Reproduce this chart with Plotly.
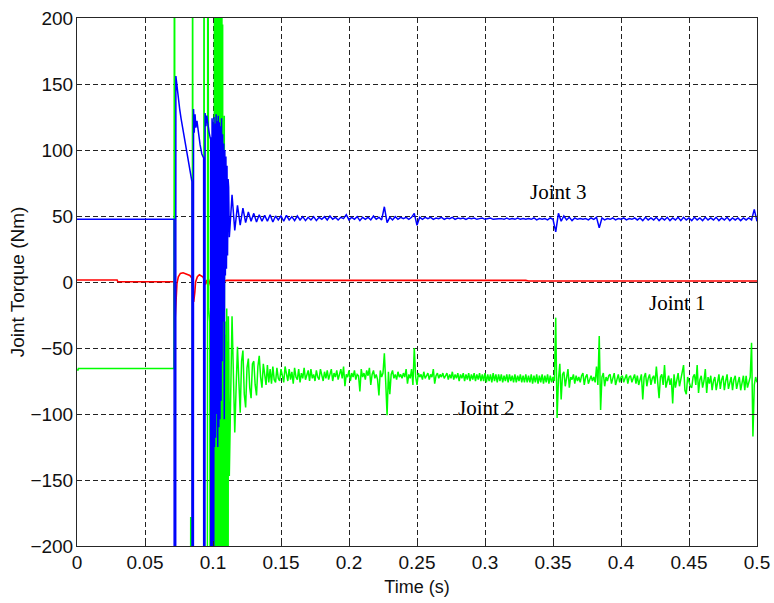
import numpy as np
import plotly.graph_objects as go

# ---------------- data ----------------
# Transient part (t in s, torque in Nm); values beyond +/-200 are off-scale excursions
blue_t_tr = [0, 0.0714, 0.0715, 0.0725, 0.0727, 0.0735, 0.0745, 0.0755, 0.0765, 0.0775,
             0.0790, 0.0805, 0.0820, 0.0832, 0.0842, 0.0845, 0.0846, 0.0855, 0.0857, 0.0862,
             0.0868, 0.0874, 0.0882, 0.0892, 0.0905, 0.0918, 0.0928, 0.0931, 0.0932, 0.0940,
             0.0942, 0.0948, 0.0954, 0.0962, 0.0972, 0.0980, 0.0983, 0.0984, 0.0991, 0.0993,
             0.0998, 0.1000, 0.1001, 0.1005, 0.1007, 0.1011, 0.1015, 0.1019, 0.1023, 0.1027,
             0.1031, 0.1035, 0.1039, 0.1043, 0.1047, 0.1051, 0.1055, 0.1059, 0.1063, 0.1067,
             0.1071, 0.1075, 0.1079, 0.1083, 0.1087, 0.1091, 0.1095, 0.1099, 0.1103, 0.1107,
             0.1111, 0.1115]
blue_v_tr = [47.5, 47.5, -400, -400, 156, 148, 138, 131, 124, 118,
             108, 99, 90, 82, 76, 76, -400, -400, 131, 113,
             127, 117, 122, 112, 104, 97, 94, 94, -400, -400,
             128, 118, 126, 119, 113, 109, 109, -400, -400, 124,
             108, 108, -400, -400, 125, -125, 120, -118, 127, -100,
             122, -125, 126, -110, 121, -104, 118, -90, 124, -60,
             112, -30, 105, -104, 100, 5, 95, 10, 88, 20,
             78, 72]

green_t_tr = [0, 0.0008, 0.0010, 0.0713, 0.0717, 0.0722, 0.0834, 0.0836, 0.0838, 0.0847,
              0.0850, 0.0854, 0.0931, 0.0934, 0.0938, 0.0958, 0.0962, 0.0968, 0.0976, 0.0980,
              0.1008, 0.1011, 0.1014, 0.1017, 0.1020, 0.1023, 0.1026, 0.1029, 0.1032, 0.1035,
              0.1038, 0.1041, 0.1044, 0.1047, 0.1050, 0.1053, 0.1056, 0.1059, 0.1062, 0.1065,
              0.1068, 0.1071, 0.1074, 0.1077, 0.1080, 0.1083, 0.1086, 0.1089, 0.1092, 0.1095,
              0.1098, 0.1101, 0.1104, 0.1107, 0.1110, 0.1113, 0.1117]
green_v_tr = [-66.7, -66.7, -65.5, -65.5, 400, -400, -400, -178, -400, -400,
              400, -400, -400, 400, -400, -400, 400, -20, -30, -400,
              -400, 400, -400, 400, -30, -400, 400, -40, -400, 400,
              -20, -400, 400, -10, -400, 380, -400, 300, -400, 400,
              -400, 195, -400, -20, -400, 126, -400, -30, -400, -40,
              -400, -20, -400, -45, -400, -26, -60]

red_t = [0, 0.0295, 0.0300, 0.0714, 0.0718, 0.0728, 0.0735, 0.0745, 0.0760, 0.0780,
         0.0800, 0.0830, 0.0845, 0.0858, 0.0866, 0.0872, 0.0885, 0.0900, 0.0925, 0.0935,
         0.0945, 0.0955, 0.0965, 0.0975, 0.0985, 0.0995, 0.1005, 0.1020, 0.1040, 0.1060,
         0.1100, 0.3300, 0.3320, 0.5000]
red_v = [1.5, 1.5, 0.2, 0.2, -35, -12, -1, 4, 6.5, 7,
         6, 5, 3, -15, -8, 0, 4, 5.5, 4, 2,
         -2, 1.5, -3, 1, 3, -2, 2, -1.5, 2, 0,
         1.2, 1.2, 0.8, 0.8]

# Steady part of Joint 2, sampled every 1 ms from t = 0.112 s to 0.500 s
GREEN_T0 = 0.112
GREEN_DT = 0.001
green_steady = [
    -147, -90, -26, -70, -114, -80, -49, -75, -99, -60, -52, -85, -95, -65, -58, -80, -88, -62, -60, -78,
    -86, -64, -56, -72, -80, -62, -70, -78, -63, -76, -66, -77, -64, -74, -76, -65, -73, -75, -66, -72,
    -76, -64, -71, -75, -66, -74, -68, -77, -65, -72, -74, -66, -76, -69, -73, -65, -74, -70, -67, -75,
    -66, -73, -70, -75, -67, -72, -74, -66, -71, -75, -68, -73, -67, -74, -70, -66, -75, -69, -72, -67,
    -74, -70, -66, -73, -64, -79, -70, -72, -67, -75, -69, -72, -67, -74, -70, -71, -83, -66, -72, -69,
    -74, -67, -71, -65, -78, -70, -67, -73, -70, -74, -86, -67, -72, -69, -54, -76, -101, -68, -85, -70,
    -67, -73, -70, -74, -68, -72, -70, -73, -69, -72, -66, -77, -70, -73, -66, -78, -50, -72, -78, -69,
    -72, -70, -74, -68, -73, -71, -69, -74, -70, -72, -66, -77, -71, -69, -73, -70, -72, -69, -73, -71,
    -69, -74, -70, -73, -68, -74, -70, -73, -69, -75, -70, -73, -69, -75, -70, -74, -69, -75, -70, -74,
    -69, -75, -70, -74, -69, -75, -70, -75, -69, -76, -70, -75, -70, -76, -69, -75, -70, -76, -70, -75,
    -70, -76, -71, -75, -70, -76, -70, -75, -71, -76, -70, -76, -71, -75, -70, -76, -71, -76, -70, -76,
    -71, -76, -70, -77, -71, -76, -70, -77, -71, -76, -70, -77, -71, -76, -70, -77, -71, -76, -72, -75,
    -27, -103, -74, -62, -89, -70, -68, -79, -72, -66, -80, -72, -74, -70, -77, -71, -75, -72, -76, -71,
    -69, -78, -72, -70, -77, -73, -71, -75, -72, -76, -64, -78, -41, -97, -72, -69, -79, -72, -75, -71,
    -70, -77, -72, -69, -78, -73, -70, -76, -72, -71, -76, -73, -70, -77, -72, -71, -76, -73, -70, -77,
    -71, -78, -73, -70, -89, -72, -69, -79, -73, -70, -78, -73, -71, -77, -64, -80, -88, -72, -70, -78,
    -63, -80, -74, -71, -78, -73, -92, -70, -80, -74, -69, -79, -73, -70, -63, -82, -85, -72, -75, -79,
    -80, -72, -70, -78, -63, -84, -74, -71, -80, -75, -66, -84, -72, -77, -71, -82, -75, -72, -82, -74,
    -70, -81, -74, -71, -82, -75, -70, -81, -76, -72, -82, -74, -71, -81, -76, -72, -82, -75, -71, -82,
    -71, -80, -75, -72, -46, -117, -78, -72, -76]

# Steady part of Joint 3, sampled every 2 ms from t = 0.112 s to 0.500 s
BLUE_T0 = 0.112
BLUE_DT = 0.002
blue_steady = [
    34, 66, 39, 58, 43, 56, 45, 53, 46, 52,
    45.5, 51, 46, 50.5, 46, 51, 45.5, 50, 47, 50,
    46, 50.5, 47, 49.5, 46.5, 50, 47, 49.5, 46.5, 49,
    47, 49.5, 46.5, 49, 47.5, 49.5, 47, 50, 47.5, 49,
    47, 49, 48, 51, 47, 49, 47.5, 49.5, 46.5, 49,
    47.5, 49, 47, 50, 47.5, 49, 47, 57, 45, 49,
    47, 49.5, 47.5, 49, 48, 49, 47.5, 49, 52, 43,
    49, 47.5, 49, 48, 49, 47.5, 48.5, 48, 49, 47.5,
    48.5, 48, 49, 47.5, 48.5, 48, 48.5, 47.5, 48.5, 48,
    48.5, 47.5, 48, 48.5, 47.5, 48, 48.5, 47.5, 48, 48,
    48, 47.5, 48.5, 47.5, 48, 47.5, 48.5, 47.5, 48, 47.5,
    48, 47.5, 48.5, 47, 48, 47.5, 48, 47, 48.5, 47.5,
    38, 52, 46, 50, 47, 49, 46.5, 48.5, 47.5, 48,
    47.5, 48, 47, 48.5, 47.5, 49, 41, 48.5, 47, 48,
    47.5, 48.5, 47, 48, 47.5, 48.5, 47, 48, 47.5, 48.5,
    47, 48.5, 46.5, 49, 47, 48.5, 47, 49, 46.5, 48.5,
    47, 49, 46.5, 48.5, 47, 49, 46.5, 49, 47, 48.5,
    46.5, 49, 47, 48.5, 46.5, 49, 47, 48.5, 47, 49,
    46.5, 48.5, 47, 49, 46.5, 48.5, 47, 48.5, 46.5, 48.5,
    47, 48.5, 47, 55, 46]

x_ticks = [0, 0.05, 0.1, 0.15, 0.2, 0.25, 0.3, 0.35, 0.4, 0.45, 0.5]
x_tick_labels = ["0", "0.05", "0.1", "0.15", "0.2", "0.25", "0.3", "0.35", "0.4", "0.45", "0.5"]
y_ticks = [-200, -150, -100, -50, 0, 50, 100, 150, 200]

labels = ["Joint 3", "Joint 1", "Joint 2"]
label_x = [0.354, 0.4416, 0.3013]
label_y = [68.4, -16.1, -95.7]

# ---------------- build ----------------
green_t = green_t_tr + list(np.round(GREEN_T0 + GREEN_DT * np.arange(len(green_steady)), 4))
green_v = green_v_tr + green_steady
blue_t = blue_t_tr + list(np.round(BLUE_T0 + BLUE_DT * np.arange(len(blue_steady)), 4))
blue_v = blue_v_tr + blue_steady

fig = go.Figure()
fig.add_trace(go.Scatter(x=red_t, y=red_v, mode="lines",
                         line=dict(color="#ff0000", width=1.6), name="Joint 1"))
fig.add_trace(go.Scatter(x=green_t, y=green_v, mode="lines",
                         line=dict(color="#00ff00", width=1.5), name="Joint 2"))
fig.add_trace(go.Scatter(x=blue_t, y=blue_v, mode="lines",
                         line=dict(color="#0000ff", width=1.5), name="Joint 3"))

for txt, xx, yy in zip(labels, label_x, label_y):
    fig.add_annotation(x=xx, y=yy, text=txt, showarrow=False,
                       font=dict(family="Liberation Serif", size=21, color="black"))

axis_common = dict(showline=True, linecolor="#262626", linewidth=1, mirror="ticks",
                   ticks="inside", ticklen=5, tickcolor="#262626",
                   showgrid=True, gridcolor="#222222", gridwidth=1, griddash="5px,3px",
                   zeroline=False, ticklabeloverflow="allow",
                   tickfont=dict(family="Liberation Sans", size=19, color="#111111"))

fig.update_xaxes(range=[0, 0.5], tickvals=x_ticks, ticktext=x_tick_labels,
                 ticklabelstandoff=-1,
                 title=dict(text="Time (s)", font=dict(family="Liberation Sans", size=18, color="#111111"),
                            standoff=8),
                 **axis_common)
fig.update_yaxes(range=[-200, 200], tickvals=y_ticks,
                 ticklabelstandoff=-1,
                 title=dict(text="Joint Torque (Nm)", font=dict(family="Liberation Sans", size=19, color="#111111"),
                            standoff=0),
                 **axis_common)

fig.update_layout(width=774, height=603, showlegend=False,
                  plot_bgcolor="white", paper_bgcolor="white",
                  margin=dict(l=77, r=17, t=18, b=57, autoexpand=False))

# remove the default 8px page margin so the 774x603 figure fills the window exactly
fig.write_html("out.html", config={"displayModeBar": False},
               post_script="document.body.style.margin='0';document.body.style.overflow='hidden';")
